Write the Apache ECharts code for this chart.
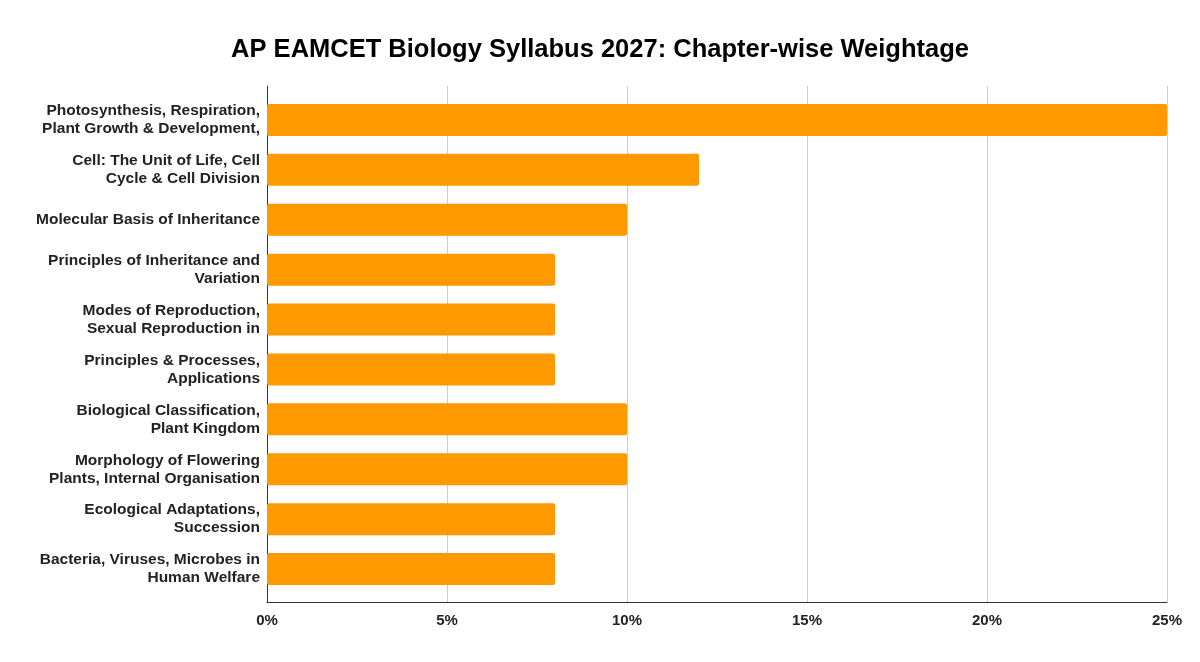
<html>
<head>
    <meta http-equiv="Content-Type" content="text/html; charset=utf-8">
    <script type="text/javascript" src="https://cdn.jsdelivr.net/npm/echarts@6/dist/echarts.min.js"></script>
    <style>
        html, body { margin: 0; padding: 0; background: #fff; }
        #main { width: 1200px; height: 662px; }
    </style>
</head>
<body>
<div id="main"></div>
<script type="text/javascript">
    var chapters = [
        'Photosynthesis, Respiration,\nPlant Growth & Development,',
        'Cell: The Unit of Life, Cell\nCycle & Cell Division',
        'Molecular Basis of Inheritance',
        'Principles of Inheritance and\nVariation',
        'Modes of Reproduction,\nSexual Reproduction in',
        'Principles & Processes,\nApplications',
        'Biological Classification,\nPlant Kingdom',
        'Morphology of Flowering\nPlants, Internal Organisation',
        'Ecological Adaptations,\nSuccession',
        'Bacteria, Viruses, Microbes in\nHuman Welfare'
    ];
    var weightage = [25, 12, 10, 8, 8, 8, 10, 10, 8, 8];
    var xTicks = [0, 5, 10, 15, 20, 25];

    var font = '"Liberation Sans", Arial, sans-serif';
    var myChart = echarts.init(document.getElementById('main'));

    var option = {
        animation: false,
        title: {
            text: 'AP EAMCET Biology Syllabus 2027: Chapter-wise Weightage',
            left: 'center',
            top: 32,
            textStyle: { fontFamily: font, fontSize: 25.5, fontWeight: 'bold', color: '#000' }
        },
        // grid 0 holds the bars, grid 1 draws the frame and gridlines
        grid: [
            { left: 267, right: 33, top: 95, height: 499 },
            { left: 267, right: 33, top: 86, height: 516 }
        ],
        xAxis: [
            {
                gridIndex: 0, type: 'value', min: 0, max: 25, interval: 5,
                show: false
            },
            {
                gridIndex: 1, type: 'value', min: xTicks[0], max: xTicks[xTicks.length - 1], interval: 5,
                axisLine: { show: true, lineStyle: { color: '#333', width: 1 } },
                axisTick: { show: false },
                splitLine: { show: true, lineStyle: { color: '#ccc', width: 1 } },
                axisLabel: {
                    margin: 11,
                    fontFamily: font, fontSize: 15, fontWeight: 'bold', color: '#222',
                    formatter: '{value}%'
                }
            }
        ],
        yAxis: [
            {
                gridIndex: 0, type: 'category', inverse: true,
                data: chapters,
                axisLine: { show: false },
                axisTick: { show: false },
                axisLabel: {
                    margin: 7,
                    fontFamily: font, fontSize: 15.5, fontWeight: 'bold', color: '#222',
                    lineHeight: 18, align: 'right'
                }
            },
            {
                gridIndex: 1, type: 'value', min: 0, max: 1,
                axisLine: { show: true, lineStyle: { color: '#333', width: 1 } },
                axisTick: { show: false },
                axisLabel: { show: false },
                splitLine: { show: false }
            }
        ],
        series: [
            {
                name: 'Weightage',
                type: 'bar',
                xAxisIndex: 0,
                yAxisIndex: 0,
                data: weightage,
                barWidth: 32,
                itemStyle: { color: '#ff9900', borderRadius: 2 }
            }
        ]
    };
    myChart.setOption(option);
</script>
</body>
</html>
